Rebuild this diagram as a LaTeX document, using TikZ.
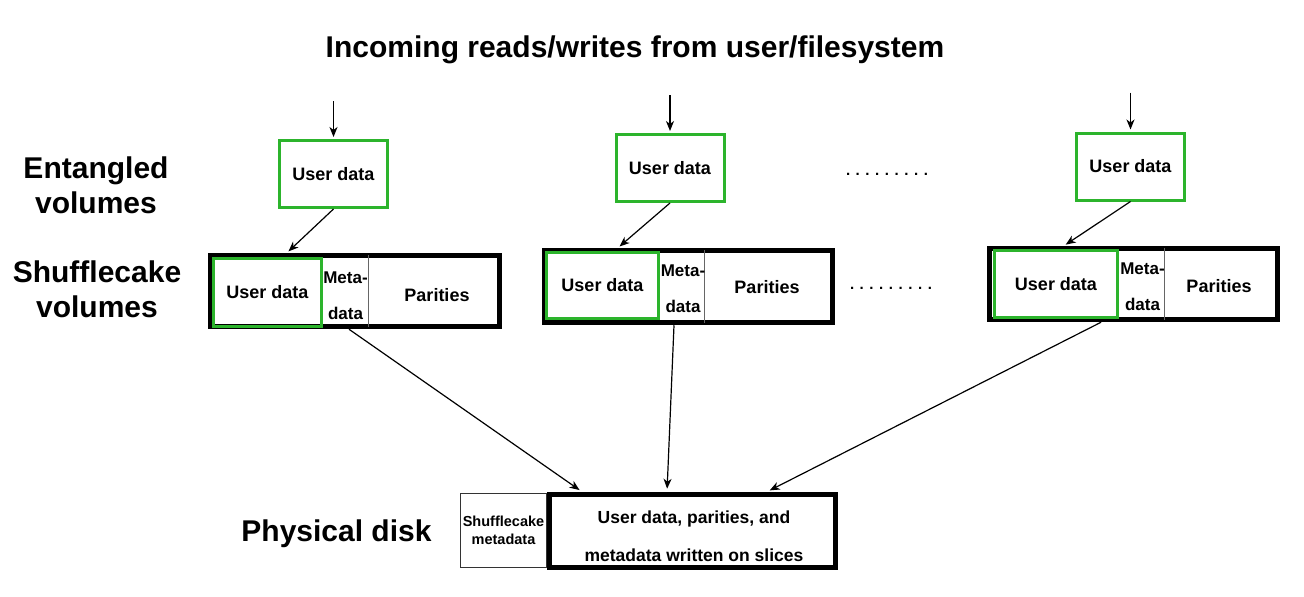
\documentclass[tikz,border=0pt]{standalone}
\usepackage{fontspec}
\setmainfont{Liberation Sans}
\usetikzlibrary{arrows.meta,positioning}
\definecolor{udgreen}{RGB}{44,180,44}

\begin{document}
\begin{tikzpicture}[x=1pt, y=-1pt, >={Stealth[length=10pt,width=8pt,inset=3pt]}, flow/.style={->, line width=1.2pt, shorten >=2pt}, txt/.style={inner sep=0pt, font=\bfseries\fontsize{18}{21}\selectfont}, heading/.style={inner sep=0pt, align=center, font=\bfseries\fontsize{30}{34.5}\selectfont}, entbox/.style={draw=udgreen, line width=3pt, fill=white, minimum width=108pt, minimum height=67pt, txt}, volbox/.style={draw=black, line width=5.5pt, fill=white}, userbox/.style={draw=udgreen, line width=3pt, txt}, divider/.style={draw=black!60, line width=1pt, shorten <=2.5pt, shorten >=2.5pt}, metatxt/.style={txt, align=center, font=\bfseries\fontsize{17}{36}\selectfont}, dotrow/.style={inner sep=0pt, font=\bfseries\fontsize{15}{18}\selectfont}]
            \useasboundingbox (0,0) rectangle (1304,597);

            % headings
            \node[heading, anchor=base] (title) at (635,57) {Incoming reads/writes from user/filesystem};
            \node[heading, anchor=base] (entlbl) at (96,213) {Entangled\\volumes};
            \node[heading, anchor=base] (shuflbl) at (97,317) {Shufflecake\\volumes};
            \node[heading, anchor=base] (disklbl) at (336.5,541) {Physical disk};

            % entangled volumes
            \node[entbox] (user1) at (333.5,174) {User data};
            \node[entbox] (user2) at (670,168) {User data};
            \node[entbox] (user3) at (1130.5,166.5) {User data};
            \node[dotrow, anchor=base] (dots1) at (887,175.5) {. . . . . . . . .};

            % shufflecake volumes
            \node[volbox, minimum width=289pt, minimum height=71pt] (sv1) at (355,291) {};
            \node[volbox, minimum width=288pt, minimum height=72pt] (sv2) at (688.5,286.5) {};
            \node[volbox, minimum width=288pt, minimum height=71pt] (sv3) at (1133.5,284) {};
            \coordinate (div1) at (368,291);
            \coordinate (div2) at (704,286);
            \coordinate (div3) at (1164,284);
            \draw[divider] (div1 |- sv1.north) -- (div1 |- sv1.south);
            \draw[divider] (div2 |- sv2.north) -- (div2 |- sv2.south);
            \draw[divider] (div3 |- sv3.north) -- (div3 |- sv3.south);
            \node[userbox, minimum width=108pt, minimum height=68pt] (svu1) at (267.5,292.5) {User data};
            \node[userbox, minimum width=112pt, minimum height=66pt] (svu2) at (602.5,285.5) {User data};
            \node[userbox, minimum width=123pt, minimum height=67pt] (svu3) at (1056,284) {User data};
            \node[metatxt, anchor=base] (meta1) at (345.5,319) {Meta-\\data};
            \node[metatxt, anchor=base] (meta2) at (683,312) {Meta-\\data};
            \node[metatxt, anchor=base] (meta3) at (1142.5,310) {Meta-\\data};
            \node[txt] (par1) at (437,295) {Parities};
            \node[txt] (par2) at (767,287) {Parities};
            \node[txt] (par3) at (1219,286) {Parities};
            \node[dotrow, anchor=base] (dots2) at (891,289.5) {. . . . . . . . .};

            % physical disk
            \node[draw=black!80, line width=1pt, minimum width=86pt, minimum height=74pt, inner sep=0pt, align=center, font=\bfseries\fontsize{14.5}{17.5}\selectfont] (diskmeta) at (503.5,530.5) {Shufflecake\\metadata};
            \node[volbox, minimum width=286pt, minimum height=73pt] (disk) at (692.5,531) {};
            \node[txt, anchor=base, align=center, font=\bfseries\fontsize{17.5}{38}\selectfont] (disktxt) at (694,561) {User data, parities, and\\metadata written on slices};

            % reads and writes
            \coordinate[above=38pt of user1] (in1);
            \coordinate[above=38pt of user2] (in2);
            \coordinate[above=39pt of user3] (in3);
            \draw[flow] (in1) -- (user1);
            \draw[flow] (in2) -- (user2);
            \draw[flow] (in3) -- (user3);
            \draw[flow] (user1.south) -- ([xshift=-68pt]sv1.north);
            \draw[flow] (user2.south) -- ([xshift=-70.5pt]sv2.north);
            \draw[flow] (user3.south) -- ([xshift=-69.5pt]sv3.north);
            \draw[flow, shorten >=3pt] ([xshift=-6pt]sv1.south) -- ([xshift=-110.5pt]disk.north);
            \draw[flow, shorten >=3pt] ([xshift=-14.5pt]sv2.south) -- ([xshift=-25.5pt]disk.north);
            \draw[flow, shorten >=3pt] ([xshift=-32.5pt]sv3.south) -- ([xshift=74.5pt]disk.north);
        \end{tikzpicture}
\end{document}
